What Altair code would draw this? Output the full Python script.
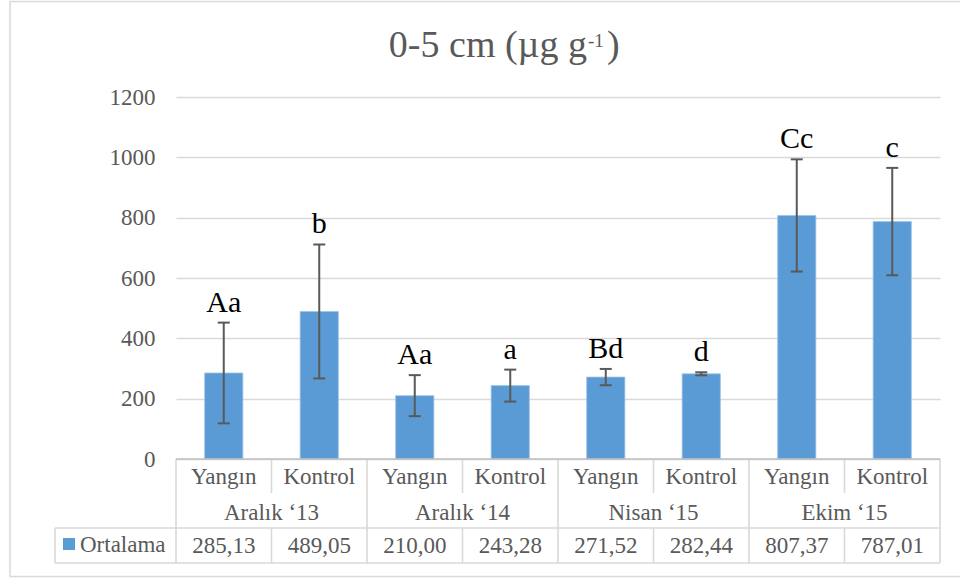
import altair as alt
import pandas as pd

# ---- data ----
groups = ["Aralık ‘13", "Aralık ‘14", "Nisan ‘15", "Ekim ‘15"]
treatments = ["Yangın", "Kontrol"]
means = [285.13, 489.05, 210.00, 243.28, 271.52, 282.44, 807.37, 787.01]
errors = [167, 222, 68, 53, 27, 5, 186, 178]
letters = ["Aa", "b", "Aa", "a", "Bd", "d", "Cc", "c"]
y_ticks = [0, 200, 400, 600, 800, 1000, 1200]

rows = []
i = 0
for g in groups:
    for p, t in enumerate(treatments):
        rows.append({
            "cat": f"{g}|{t}", "group": g, "treat": t, "pos": p,
            "mean": means[i], "lo": means[i] - errors[i], "hi": means[i] + errors[i],
            "letter": letters[i], "label": f"{means[i]:.2f}".replace(".", ","),
        })
        i += 1
df = pd.DataFrame(rows)
cats = list(df["cat"])
one = pd.DataFrame({"k": [0]})

W, H = 764, 362
FONT = "Liberation Serif"
GREY = "#595959"
LINE = "#d9d9d9"
BLUE = "#5b9bd5"

xs = alt.Scale(domain=cats, paddingInner=0, paddingOuter=0)
X = alt.X("cat:N", scale=xs, axis=None)
X0 = alt.X("cat:N", scale=xs, axis=None, bandPosition=0)

base = alt.Chart(df)

bars = base.mark_bar(width={"band": 0.4}, color=BLUE, stroke="#9dc3e6", strokeWidth=0.8).encode(
    x=X,
    y=alt.Y("mean:Q", scale=alt.Scale(domain=[0, 1200], nice=False),
            axis=alt.Axis(values=y_ticks, title=None, domain=False, ticks=False, format="d",
                          labelFont=FONT, labelFontSize=23, labelColor=GREY,
                          labelPadding=21, gridColor=LINE, gridWidth=1.3)),
)
err = base.mark_rule(color=GREY, strokeWidth=2).encode(x=X, y="lo:Q", y2="hi:Q")
cap_hi = base.mark_tick(color=GREY, thickness=2, size=12, opacity=1).encode(x=X, y="hi:Q")
cap_lo = base.mark_tick(color=GREY, thickness=2, size=12, opacity=1).encode(x=X, y="lo:Q")
let = base.mark_text(baseline="alphabetic", dy=-11, font=FONT, fontSize=30, color="black").encode(
    x=X, y="hi:Q", text="letter:N")

# ---- data table below the plot ----
txt = dict(font=FONT, fontSize=23, color=GREY, baseline="alphabetic")
treat_txt = base.mark_text(**txt).encode(x=X, y=alt.value(387), text="treat:N")
val_txt = base.mark_text(**txt).encode(x=X, y=alt.value(456), text="label:N")
grp_txt = alt.Chart(df[df["pos"] == 0]).mark_text(dx=W / 16, **txt).encode(
    x=X, y=alt.value(423), text="group:N")

gsep = alt.Chart(df[df["pos"] == 0]).mark_rule(color=LINE, strokeWidth=1.6).encode(
    x=X0, y=alt.value(H), y2=alt.value(466))
isep1 = alt.Chart(df[df["pos"] == 1]).mark_rule(color=LINE, strokeWidth=1.6).encode(
    x=X0, y=alt.value(H), y2=alt.value(396))
isep2 = alt.Chart(df[df["pos"] == 1]).mark_rule(color=LINE, strokeWidth=1.6).encode(
    x=X0, y=alt.value(431), y2=alt.value(466))
o = alt.Chart(one)
rside = o.mark_rule(color=LINE, strokeWidth=1.6).encode(x=alt.value(W), y=alt.value(H), y2=alt.value(466))
lside = o.mark_rule(color=LINE, strokeWidth=1.6).encode(x=alt.value(-121), y=alt.value(431), y2=alt.value(466))
h1 = o.mark_rule(color=LINE, strokeWidth=1.6).encode(x=alt.value(-121), x2=alt.value(W), y=alt.value(431))
h2 = o.mark_rule(color=LINE, strokeWidth=1.6).encode(x=alt.value(-121), x2=alt.value(W), y=alt.value(466))
axisline = o.mark_rule(color="#bfbfbf", strokeWidth=1.6).encode(x=alt.value(0), x2=alt.value(W), y=alt.value(H))

leg_sq = o.mark_square(size=144, color=BLUE, filled=True, opacity=1).encode(
    x=alt.value(-107), y=alt.value(447))
leg_txt = o.mark_text(align="left", **txt).encode(
    x=alt.value(-96), y=alt.value(455), text=alt.value("Ortalama"))

# ---- title with superscript ----
t_main = o.mark_text(align="right", baseline="alphabetic", font=FONT, fontSize=38, color=GREY).encode(
    x=alt.value(411), y=alt.value(-40), text=alt.value("0-5 cm (µg g"))
t_sup = o.mark_text(align="left", baseline="alphabetic", font=FONT, fontSize=19, color=GREY).encode(
    x=alt.value(412), y=alt.value(-50), text=alt.value("-1"))
t_end = o.mark_text(align="left", baseline="alphabetic", font=FONT, fontSize=38, color=GREY).encode(
    x=alt.value(431), y=alt.value(-40), text=alt.value(")"))

frame = o.mark_rect(fill=None, stroke=LINE, strokeWidth=1.5).encode(
    x=alt.value(-166), x2=alt.value(830), y=alt.value(-95.5), y2=alt.value(479.5))

chart = alt.layer(
    frame, bars, err, cap_hi, cap_lo, let,
    gsep, isep1, isep2, rside, lside, h1, h2, axisline,
    treat_txt, grp_txt, val_txt, leg_sq, leg_txt,
    t_main, t_sup, t_end,
).properties(
    width=W, height=H,
    autosize=alt.AutoSizeParams(type="none"),
    padding={"left": 176, "top": 97, "right": 20, "bottom": 119},
    background="white",
).configure_view(stroke=None)

chart.save("out.html", embed_options={"renderer": "svg", "actions": False})
